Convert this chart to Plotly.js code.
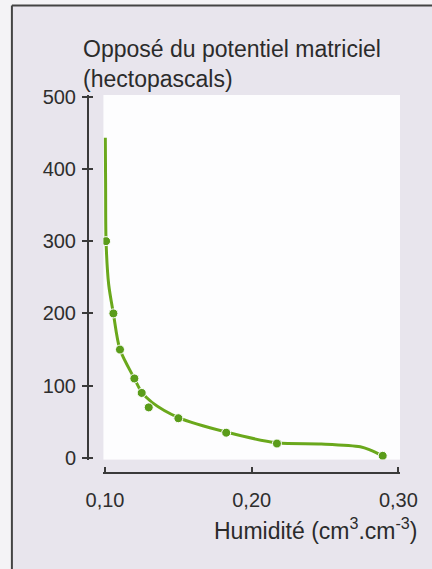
<!DOCTYPE html>
<html>
<head>
<meta charset="utf-8">
<script src="https://cdn.plot.ly/plotly-3.0.1.min.js"></script>
<style>html,body{margin:0;padding:0;background:#f4f3f6;}</style>
</head>
<body>
<div id="chart" style="width:432px;height:569px;"></div>
<script>
// Measured points
const humidite = [0.1007, 0.1057, 0.1102, 0.1200, 0.1250, 0.1298, 0.1500, 0.1826, 0.2172, 0.2893];
const potentiel = [300, 200, 150, 110, 90, 70, 55, 35, 20, 3];
// Fitted curve
const courbeX = [0.1002, 0.1004, 0.1007, 0.1025, 0.1057, 0.1102, 0.1200, 0.1250, 0.1320, 0.1500, 0.1826, 0.2172, 0.2474, 0.2740, 0.2809, 0.2893];
const courbeY = [443, 380, 300, 240, 200, 150, 110, 91, 77, 56, 36, 21, 19.4, 15.6, 11, 3];
const xTicks = [0.10, 0.20, 0.30];
const xTickLabels = ['0,10', '0,20', '0,30'];
const yTicks = [0, 100, 200, 300, 400, 500];
const yTickLabels = ['0', '100', '200', '300', '400', '500'];

const W = 432, H = 569;
// pixel geometry of the reference
const X10 = 105, X30 = 398, Y0 = 458, Y500 = 97, YAXIS_X = 88, XAXIS_Y = 473;
const kx = (X30 - X10) / 0.2, ky = (Y0 - Y500) / 500;
const EPX = 1.6; // small range extension so end ticks are kept
const xr = [0.1 - EPX / kx, 0.3 + EPX / kx];
const yr = [0 - EPX / ky, 500 + EPX / ky];
const plotL = X10 - EPX, plotR = X30 + EPX, plotT = Y500 - EPX, plotB = Y0 + EPX;
const ML = YAXIS_X, MR = W - plotR, MT = plotT, MB = H - XAXIS_Y;
const PW = W - ML - MR, PH = H - MT - MB;
const px = v => (v - ML) / PW;
const py = v => (H - MB - v) / PH;

const FONT = 'Liberation Sans, Arial, Helvetica, sans-serif';
const INK = '#3a3a3a';

const traces = [
  {x: courbeX, y: courbeY, type: 'scatter', mode: 'lines',
   line: {color: '#6aa81c', width: 3, shape: 'spline', smoothing: 0.8}},
  {x: humidite, y: potentiel, type: 'scatter', mode: 'markers',
   marker: {color: '#5a9c1a', size: 9, line: {color: '#ffffff', width: 1}}},
  // empty helper so the overlaying tick axis (crossing ticks) is drawn
  {x: [], y: [], type: 'scatter', mode: 'markers', yaxis: 'y2', hoverinfo: 'skip'}
];

const layout = {
  width: W, height: H,
  margin: {l: ML, r: MR, t: MT, b: MB, pad: 0},
  paper_bgcolor: '#e8e5ed',
  plot_bgcolor: '#fdfdfe',
  showlegend: false,
  font: {family: FONT, color: '#2e2e2e'},
  title: {
    text: 'Opposé du potentiel matriciel<br>(hectopascals)',
    font: {family: FONT, size: 23, color: '#2b2b2b'},
    xref: 'container', x: 83 / W, xanchor: 'left',
    yref: 'container', y: 1 - 57 / H, yanchor: 'top'
  },
  xaxis: {
    range: xr, domain: [(plotL - ML) / PW, 1], anchor: 'free', position: 0,
    tickvals: xTicks, ticktext: xTickLabels, ticks: 'inside', ticklen: 5, tickwidth: 2, tickcolor: INK,
    showline: true, linecolor: INK, linewidth: 2, showgrid: false, zeroline: false,
    tickfont: {family: FONT, size: 20, color: '#2e2e2e'}, ticklabelstandoff: 9
  },
  yaxis: {
    range: yr, domain: [(H - MB - plotB) / PH, 1], anchor: 'free', position: 0,
    tickvals: yTicks, ticktext: yTickLabels, ticks: 'outside', ticklen: 5, tickwidth: 2, tickcolor: INK,
    showline: true, linecolor: INK, linewidth: 2, showgrid: false, zeroline: false,
    tickfont: {family: FONT, size: 20, color: '#2e2e2e'}, ticklabelstandoff: 2
  },
  yaxis2: {
    range: yr, domain: [(H - MB - plotB) / PH, 1], anchor: 'free', position: 0,
    overlaying: 'y', tickvals: yTicks, ticks: 'inside', ticklen: 4, tickwidth: 2, tickcolor: INK,
    showticklabels: false, showgrid: false, zeroline: false, showline: false
  },
  annotations: [{
    text: 'Humidité (cm<sup>3</sup>.cm<sup>-3</sup>)',
    xref: 'paper', yref: 'paper', x: px(419), y: py(546),
    xanchor: 'right', yanchor: 'bottom', showarrow: false,
    font: {family: FONT, size: 23, color: '#2b2b2b'}
  }],
  shapes: [
    {type: 'rect', xref: 'paper', yref: 'paper', x0: px(0), x1: px(12), y0: py(H), y1: py(0),
     fillcolor: '#f4f3f6', line: {width: 0}, layer: 'below'},
    {type: 'rect', xref: 'paper', yref: 'paper', x0: px(0), x1: px(W), y0: py(6), y1: py(0),
     fillcolor: '#f4f3f6', line: {width: 0}, layer: 'below'},
    {type: 'line', xref: 'paper', yref: 'paper', x0: px(12), x1: px(12), y0: py(H), y1: py(6),
     line: {color: '#444444', width: 2}},
    {type: 'line', xref: 'paper', yref: 'paper', x0: px(12), x1: px(W), y0: py(6), y1: py(6),
     line: {color: '#444444', width: 2}}
  ]
};

Plotly.newPlot('chart', traces, layout, {displayModeBar: false, staticPlot: true});
</script>
</body>
</html>
